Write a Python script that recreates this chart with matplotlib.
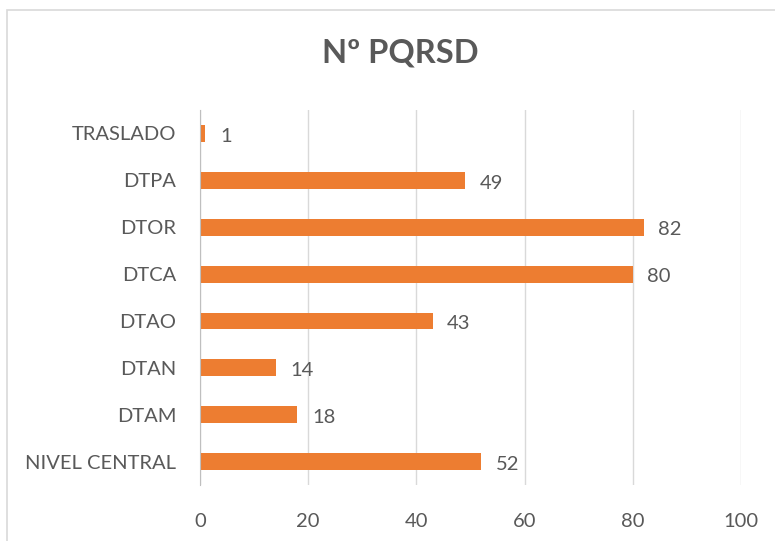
import matplotlib
matplotlib.use("Agg")
import matplotlib.pyplot as plt
from matplotlib.patches import Rectangle

categories = ["NIVEL CENTRAL", "DTAM", "DTAN", "DTAO", "DTCA", "DTOR", "DTPA", "TRASLADO"]
values = [52, 18, 14, 43, 80, 82, 49, 1]
xticks = [0, 20, 40, 60, 80, 100]
title = "Nº PQRSD"

TXT = "#595959"
plt.rcParams['font.family'] = ['Lato', 'DejaVu Sans']

fig = plt.figure(figsize=(7.75, 5.41), dpi=100)
fig.patches.append(Rectangle((7/775, -0.2), 1.2, 1.2 - 10/541,
                             transform=fig.transFigure, fill=False,
                             edgecolor="#d9d9d9", linewidth=1.2))
ax = fig.add_axes([200/775, 1-485/541, 541/775, 375/541])

y = list(range(len(categories)))
ax.barh(y, values, height=0.36, color="#ED7D31", zorder=3)
for yi, v in zip(y, values):
    ax.annotate(str(v), (v, yi), xytext=(10.5, -2), textcoords="offset points",
                ha="left", va="center", fontsize=14.5, color=TXT)

ax.set_xlim(0, 100)
ax.set_ylim(-0.5, len(categories)-0.5)
ax.set_xticks(xticks)
ax.set_xticklabels([str(t) for t in xticks])
ax.set_yticks(y)
ax.set_yticklabels(categories)
ax.tick_params(axis="x", length=0, pad=20, labelsize=14.5, labelcolor=TXT)
ax.tick_params(axis="y", length=0, pad=17, labelsize=14.5, labelcolor=TXT)
ax.grid(axis="x", color="#d9d9d9", linewidth=1, zorder=0)
for s in ["top", "right", "bottom"]:
    ax.spines[s].set_visible(False)
ax.spines["left"].set_color("#bfbfbf")
ax.spines["left"].set_zorder(4)

fig.text(400/775, 1-53/541, title, ha="center", va="center", fontsize=23.5,
         fontweight="bold", color=TXT)

fig.savefig("out.png", dpi=100)
